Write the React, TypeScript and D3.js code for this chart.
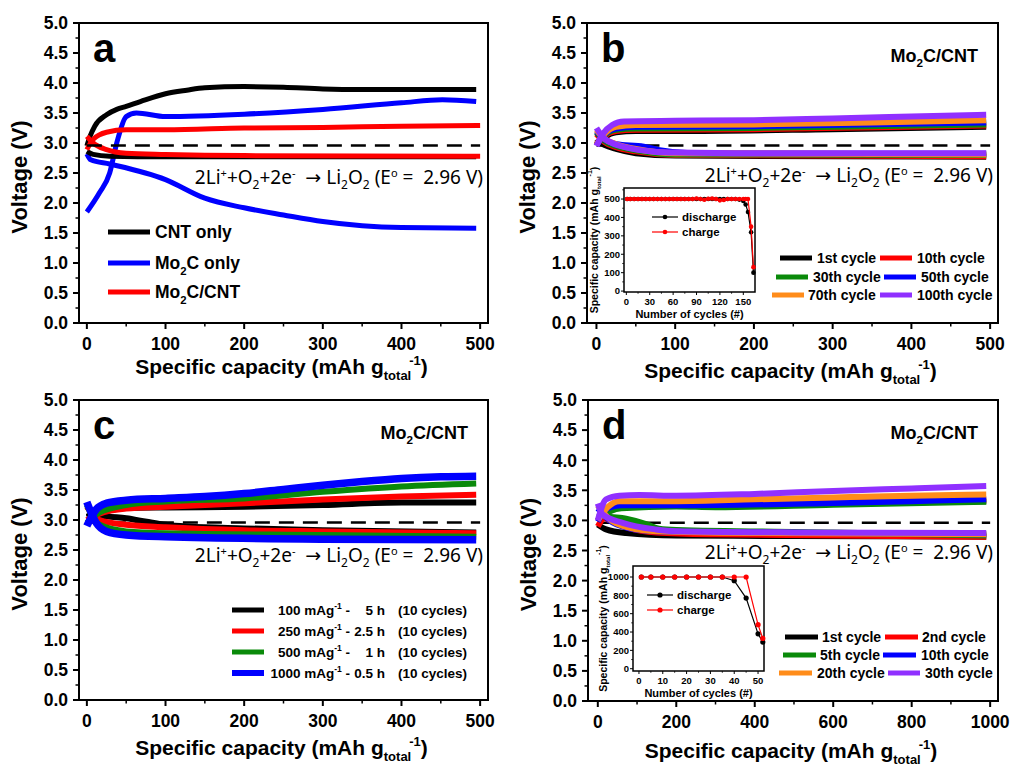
import React from "react";
import * as d3 from "d3";

type Pt = [number, number];

const FONT = "'Liberation Sans', Arial, sans-serif";
const EQFONT = "'Noto Sans', 'DejaVu Sans', sans-serif";

// colours of the cycle curves
const BLACK = "#000000";
const RED = "#ff0000";
const GREEN = "#0a8a0a";
const BLUE = "#0000ff";
const ORANGE = "#ff8c1a";
const PURPLE = "#9030ff";

// ---- panel a: CNT only / Mo2C only / Mo2C/CNT (capacity, voltage)
const aCntCharge: Pt[] = [[0, 2.95], [4, 3.11], [10, 3.28], [25, 3.47], [38, 3.56], [50, 3.61], [68, 3.69], [100, 3.82], [127, 3.88], [150, 3.92], [200, 3.94], [250, 3.93], [300, 3.9], [350, 3.89], [495, 3.89]];
const aCntDischarge: Pt[] = [[0, 2.86], [8, 2.81], [29, 2.78], [100, 2.77], [300, 2.77], [495, 2.77]];
const aMoCharge: Pt[] = [[0, 1.85], [16, 2.17], [29, 2.5], [38, 3.0], [50, 3.44], [63, 3.5], [100, 3.44], [200, 3.48], [300, 3.56], [400, 3.67], [452, 3.72], [495, 3.69]];
const aMoDischarge: Pt[] = [[0, 2.82], [5, 2.72], [29, 2.65], [100, 2.39], [150, 2.08], [200, 1.92], [250, 1.8], [300, 1.69], [350, 1.62], [400, 1.59], [495, 1.58]];
const aMixCharge: Pt[] = [[0, 2.89], [8, 3.06], [25, 3.18], [50, 3.22], [100, 3.22], [200, 3.25], [300, 3.26], [400, 3.28], [500, 3.29]];
const aMixDischarge: Pt[] = [[0, 3.11], [8, 3.0], [25, 2.89], [50, 2.83], [100, 2.81], [200, 2.79], [500, 2.78]];

// ---- panel b: 500 mAh/g cycles
const b1Charge: Pt[] = [[0, 3.0], [10, 3.1], [25, 3.18], [50, 3.2], [100, 3.2], [300, 3.23], [495, 3.27]];
const b1Discharge: Pt[] = [[0, 3.05], [10, 2.97], [25, 2.9], [50, 2.83], [100, 2.79], [495, 2.77]];
const b10Charge: Pt[] = [[0, 2.98], [10, 3.12], [25, 3.2], [50, 3.22], [200, 3.23], [495, 3.29]];
const b10Discharge: Pt[] = [[0, 3.15], [10, 3.02], [25, 2.93], [50, 2.86], [100, 2.8], [495, 2.78]];
const b30Charge: Pt[] = [[0, 2.97], [10, 3.13], [25, 3.22], [50, 3.24], [200, 3.25], [495, 3.31]];
const b30Discharge: Pt[] = [[0, 3.18], [10, 3.04], [25, 2.95], [50, 2.88], [100, 2.81], [495, 2.8]];
const b50Charge: Pt[] = [[0, 2.96], [10, 3.14], [25, 3.24], [50, 3.27], [200, 3.28], [495, 3.34]];
const b50Discharge: Pt[] = [[0, 3.2], [10, 3.06], [25, 2.98], [60, 2.94], [80, 2.88], [120, 2.83], [495, 2.82]];
const b70Charge: Pt[] = [[0, 2.97], [10, 3.15], [25, 3.27], [50, 3.3], [200, 3.31], [350, 3.34], [495, 3.38]];
const b70Discharge: Pt[] = [[0, 3.22], [10, 3.07], [25, 2.98], [50, 2.9], [100, 2.83], [495, 2.81]];
const b100Charge: Pt[] = [[0, 2.95], [8, 3.15], [20, 3.3], [35, 3.36], [100, 3.37], [200, 3.38], [300, 3.41], [400, 3.44], [495, 3.47]];
const b100Discharge: Pt[] = [[0, 3.25], [8, 3.1], [20, 3.0], [40, 2.92], [70, 2.86], [100, 2.84], [200, 2.83], [495, 2.83]];

// inset b: capacity retention
const bCycles = [1, 5, 10, 15, 20, 25, 30, 35, 40, 45, 50, 55, 60, 65, 70, 75, 80, 85, 90, 95, 100, 105, 110, 115, 120, 125, 130, 135, 140, 145, 150, 153, 156, 160, 163];
const bDischargeCap = [500, 500, 500, 500, 500, 500, 500, 500, 500, 500, 500, 500, 500, 500, 500, 500, 500, 500, 500, 500, 500, 500, 500, 500, 500, 500, 500, 500, 500, 497, 490, 470, 430, 320, 100];
const bChargeCap = [500, 500, 500, 500, 500, 500, 500, 500, 500, 500, 500, 500, 500, 500, 500, 500, 500, 500, 503, 500, 496, 502, 503, 500, 493, 495, 500, 500, 500, 500, 500, 500, 500, 350, 130];

// ---- panel c: rate capability
const c100Charge: Pt[] = [[0, 3.05], [25, 3.15], [50, 3.2], [100, 3.21], [200, 3.22], [300, 3.25], [400, 3.29], [495, 3.29]];
const c100Discharge: Pt[] = [[0, 3.12], [25, 3.06], [50, 3.03], [76, 2.97], [100, 2.92], [127, 2.89], [200, 2.86], [300, 2.83], [495, 2.79]];
const c250Charge: Pt[] = [[0, 3.0], [15, 3.1], [50, 3.19], [100, 3.22], [200, 3.28], [300, 3.34], [400, 3.39], [495, 3.42]];
const c250Discharge: Pt[] = [[0, 3.22], [16, 3.0], [50, 2.92], [100, 2.88], [200, 2.83], [300, 2.81], [495, 2.78]];
const c500Charge: Pt[] = [[0, 2.95], [15, 3.12], [50, 3.25], [100, 3.31], [200, 3.36], [300, 3.47], [400, 3.56], [495, 3.61]];
const c500Discharge: Pt[] = [[0, 3.25], [16, 2.92], [50, 2.81], [100, 2.78], [300, 2.75], [495, 2.72]];
const c1000Charge: Pt[] = [[0, 2.9], [12, 3.18], [25, 3.28], [50, 3.33], [100, 3.36], [150, 3.39], [200, 3.44], [250, 3.51], [300, 3.58], [350, 3.64], [400, 3.69], [450, 3.72], [495, 3.73]];
const c1000Discharge: Pt[] = [[0, 3.3], [12, 2.95], [25, 2.81], [50, 2.75], [100, 2.72], [300, 2.68], [495, 2.67]];

// ---- panel d: 1000 mAh/g cycles
const d1Charge: Pt[] = [[0, 3.0], [20, 3.15], [50, 3.22], [100, 3.24], [300, 3.25], [600, 3.28], [990, 3.32]];
const d1Discharge: Pt[] = [[0, 2.93], [21, 2.85], [72, 2.79], [200, 2.75], [500, 2.74], [990, 2.73]];
const d2Charge: Pt[] = [[0, 2.9], [20, 3.1], [50, 3.22], [100, 3.26], [300, 3.28], [600, 3.3], [990, 3.34]];
const d2Discharge: Pt[] = [[0, 3.1], [30, 3.0], [80, 2.87], [150, 2.8], [300, 2.77], [990, 2.73]];
const d5Charge: Pt[] = [[0, 3.05], [30, 3.15], [60, 3.2], [200, 3.23], [300, 3.22], [600, 3.26], [990, 3.31]];
const d5Discharge: Pt[] = [[0, 3.12], [21, 3.07], [72, 3.03], [123, 2.94], [156, 2.86], [200, 2.84], [600, 2.8], [990, 2.75]];
const d10Charge: Pt[] = [[0, 2.98], [25, 3.2], [60, 3.25], [200, 3.25], [600, 3.29], [800, 3.32], [990, 3.35]];
const d10Discharge: Pt[] = [[0, 3.2], [30, 3.0], [80, 2.87], [150, 2.82], [400, 2.8], [990, 2.77]];
const d20Charge: Pt[] = [[0, 3.0], [25, 3.22], [55, 3.32], [200, 3.32], [400, 3.35], [600, 3.38], [800, 3.41], [990, 3.43]];
const d20Discharge: Pt[] = [[0, 3.25], [30, 3.02], [80, 2.88], [150, 2.82], [400, 2.79], [990, 2.77]];
const d30Charge: Pt[] = [[0, 3.0], [21, 3.35], [55, 3.41], [106, 3.42], [200, 3.41], [400, 3.44], [600, 3.49], [800, 3.53], [990, 3.57]];
const d30Discharge: Pt[] = [[0, 3.28], [12, 3.1], [63, 2.96], [148, 2.85], [200, 2.82], [500, 2.8], [990, 2.79]];

// inset d
const dCycles = [1, 5, 10, 15, 20, 25, 30, 35, 40, 45, 50, 52];
const dDischargeCap = [1000, 1000, 1000, 1000, 1000, 1000, 1000, 1000, 960, 770, 380, 290];
const dChargeCap = [1000, 1000, 1000, 1000, 1000, 1000, 1000, 1000, 1000, 1000, 480, 330];

interface Curve { d: Pt[]; c: string; w: number; }

const yMajor = d3.range(0, 5.01, 0.5);
const yMinor = d3.range(0.25, 5, 0.5);
const fmt1 = d3.format(".1f");

// "Mo" + subscript 2 + rest of the label
function Mo2C({ size, rest }: { size: number; rest: string }) {
  const d = size * 0.3;
  return (
    <>
      Mo<tspan dy={d} fontSize={size * 0.65}>2</tspan>
      <tspan dy={-d}>{rest}</tspan>
    </>
  );
}

function Equation({ x, y }: { x: number; y: number }) {
  return (
    <text x={x} y={y} textAnchor="end" fontFamily={EQFONT} fontSize={19} style={{ whiteSpace: "pre" }}>
      2Li<tspan dy={-7} fontSize={11}>+</tspan>
      <tspan dy={7}>+O</tspan>
      <tspan dy={5} fontSize={12}>2</tspan>
      <tspan dy={-5}>+2e</tspan>
      <tspan dy={-7} fontSize={11}>-</tspan>
      <tspan dy={7}>{"  \u2192 Li"}</tspan>
      <tspan dy={5} fontSize={12}>2</tspan>
      <tspan dy={-5}>O</tspan>
      <tspan dy={5} fontSize={12}>2</tspan>
      <tspan dy={-5}>{" (E"}</tspan>
      <tspan dy={-7} fontSize={11}>o</tspan>
      <tspan dy={7}>{" =  2.96 V)"}</tspan>
    </text>
  );
}

function Panel(props: any) {
  const { left, top, w, h, xDomain, xMajor, xMinor, xEnd, curves, letter, tag, eqY, titleY, dashOnTop, children } = props;
  const xs = d3.scaleLinear().domain(xDomain).range([left, left + w]);
  const ys = d3.scaleLinear().domain([0, 5]).range([top + h, top]);
  const line = d3.line<Pt>().x((d) => xs(d[0])).y((d) => ys(d[1])).curve(d3.curveMonotoneX);
  const bottom = top + h;
  const dash = (
    <line x1={xs(0)} x2={xs(xEnd)} y1={ys(2.96)} y2={ys(2.96)} stroke="#000" strokeWidth={2.5} strokeDasharray="15 9" />
  );
  return (
    <g>
      {!dashOnTop && dash}
      {(curves as Curve[]).map((c, i) => (
        <path key={i} d={line(c.d) || ""} fill="none" stroke={c.c} strokeWidth={c.w} strokeLinejoin="round" />
      ))}
      {dashOnTop && dash}
      <rect x={left} y={top} width={w} height={h} fill="none" stroke="#000" strokeWidth={2} />
      {yMajor.map((v) => (
        <g key={"ym" + v}>
          <line x1={left - 6} x2={left} y1={ys(v)} y2={ys(v)} stroke="#000" strokeWidth={2} />
          <text x={left - 11} y={ys(v)} dy="0.36em" textAnchor="end" fontFamily={FONT} fontWeight="bold" fontSize={17.5}>{fmt1(v)}</text>
        </g>
      ))}
      {yMinor.map((v) => (
        <line key={"yn" + v} x1={left - 3.5} x2={left} y1={ys(v)} y2={ys(v)} stroke="#000" strokeWidth={1.5} />
      ))}
      {(xMajor as number[]).map((v) => (
        <g key={"xm" + v}>
          <line x1={xs(v)} x2={xs(v)} y1={bottom} y2={bottom + 6} stroke="#000" strokeWidth={2} />
          <text x={xs(v)} y={bottom + 27} textAnchor="middle" fontFamily={FONT} fontWeight="bold" fontSize={17.5}>{v}</text>
        </g>
      ))}
      {(xMinor as number[]).map((v) => (
        <line key={"xn" + v} x1={xs(v)} x2={xs(v)} y1={bottom} y2={bottom + 3.5} stroke="#000" strokeWidth={1.5} />
      ))}
      <text transform={`translate(${left - 52},${top + h / 2 + 4}) rotate(-90)`} textAnchor="middle" fontFamily={FONT} fontWeight="bold" fontSize={22}>Voltage (V)</text>
      <text x={left + w / 2 - 2} y={titleY} textAnchor="middle" fontFamily={FONT} fontWeight="bold" fontSize={21}>
        Specific capacity (mAh g<tspan dy={6} fontSize={13}>total</tspan>
        <tspan dy={-15} dx={-2} fontSize={13}>-1</tspan>
        <tspan dy={9}>)</tspan>
      </text>
      <text x={left + 14} y={top + 39} fontFamily={FONT} fontWeight="bold" fontSize={40}>{letter}</text>
      {tag && (
        <text x={left + w - 20} y={top + 39} textAnchor="end" fontFamily={FONT} fontWeight="bold" fontSize={18}>
          <Mo2C size={18} rest="C/CNT" />
        </text>
      )}
      <Equation x={left + w - 5} y={eqY} />
      {children}
    </g>
  );
}

function Inset(props: any) {
  const { left, top, w, h, xDomain, yDomain, xTicks, yTicks, xMinor, yMinor, cycles, dis, chg, r, legX, legY } = props;
  const xs = d3.scaleLinear().domain(xDomain).range([left, left + w]);
  const ys = d3.scaleLinear().domain(yDomain).range([top + h, top]);
  const bottom = top + h;
  const disPts: Pt[] = (cycles as number[]).map((c, i) => [c, dis[i]]);
  const chgPts: Pt[] = (cycles as number[]).map((c, i) => [c, chg[i]]);
  const line = d3.line<Pt>().x((d) => xs(d[0])).y((d) => ys(d[1]));
  return (
    <g>
      <rect x={left} y={top} width={w} height={h} fill="#fff" stroke="#000" strokeWidth={1.5} />
      <path d={line(disPts) || ""} fill="none" stroke="#000" strokeWidth={1.2} />
      {disPts.map((p, i) => <circle key={"d" + i} cx={xs(p[0])} cy={ys(p[1])} r={r} fill="#000" />)}
      <path d={line(chgPts) || ""} fill="none" stroke={RED} strokeWidth={1.2} />
      {chgPts.map((p, i) => <circle key={"c" + i} cx={xs(p[0])} cy={ys(p[1])} r={r} fill={RED} />)}
      {(yTicks as number[]).map((v) => (
        <g key={"y" + v}>
          <line x1={left - 3} x2={left} y1={ys(v)} y2={ys(v)} stroke="#000" strokeWidth={1} />
          <text x={left - 4} y={ys(v)} dy="0.36em" textAnchor="end" fontFamily={FONT} fontWeight="bold" fontSize={9.5}>{v}</text>
        </g>
      ))}
      {(yMinor as number[]).map((v) => (
        <line key={"yn" + v} x1={left - 1.8} x2={left} y1={ys(v)} y2={ys(v)} stroke="#000" strokeWidth={0.8} />
      ))}
      {(xTicks as number[]).map((v) => (
        <g key={"x" + v}>
          <line x1={xs(v)} x2={xs(v)} y1={bottom} y2={bottom + 3} stroke="#000" strokeWidth={1} />
          <text x={xs(v)} y={bottom + 13} textAnchor="middle" fontFamily={FONT} fontWeight="bold" fontSize={9.5}>{v}</text>
        </g>
      ))}
      {(xMinor as number[]).map((v) => (
        <line key={"xn" + v} x1={xs(v)} x2={xs(v)} y1={bottom} y2={bottom + 1.8} stroke="#000" strokeWidth={0.8} />
      ))}
      <text x={left + w / 2} y={bottom + 26} textAnchor="middle" fontFamily={FONT} fontWeight="bold" fontSize={11}>Number of cycles (#)</text>
      <text transform={`translate(${left - 26},${top + h / 2}) rotate(-90)`} textAnchor="middle" fontFamily={FONT} fontWeight="bold" fontSize={10.5}>
        Specific capacity (mAh g<tspan dy={3} fontSize={6}>total</tspan>
        <tspan dy={-9} fontSize={7}>-1</tspan>
        <tspan dy={6}>)</tspan>
      </text>
      {[["discharge", "#000", 0], ["charge", RED, 1]].map(([lab, col, k]: any) => (
        <g key={lab}>
          <line x1={legX} x2={legX + 26} y1={legY + k * 15} y2={legY + k * 15} stroke={col} strokeWidth={1.2} />
          <circle cx={legX + 13} cy={legY + k * 15} r={r} fill={col} />
          <text x={legX + 30} y={legY + k * 15} dy="0.36em" fontFamily={FONT} fontWeight="bold" fontSize={11.5}>{lab}</text>
        </g>
      ))}
    </g>
  );
}

function LegendItem({ x1, x2, tx, y, c, w, size, children }: any) {
  return (
    <g>
      <line x1={x1} x2={x2} y1={y} y2={y} stroke={c} strokeWidth={w} />
      <text x={tx} y={y} dy="0.36em" fontFamily={FONT} fontWeight="bold" fontSize={size}>{children}</text>
    </g>
  );
}

export default function App() {
  const curvesA: Curve[] = [
    { d: aMoDischarge, c: BLUE, w: 5 },
    { d: aMoCharge, c: BLUE, w: 5 },
    { d: aCntDischarge, c: BLACK, w: 5 },
    { d: aCntCharge, c: BLACK, w: 5 },
    { d: aMixDischarge, c: RED, w: 5 },
    { d: aMixCharge, c: RED, w: 5 },
  ];
  const curvesB: Curve[] = [
    [b1Charge, b1Discharge, BLACK], [b10Charge, b10Discharge, RED], [b30Charge, b30Discharge, GREEN],
    [b50Charge, b50Discharge, BLUE], [b70Charge, b70Discharge, ORANGE], [b100Charge, b100Discharge, PURPLE],
  ].flatMap(([ch, di, c]: any) => [{ d: di, c, w: 6 }, { d: ch, c, w: 6 }]);
  const curvesC: Curve[] = [
    [c100Charge, c100Discharge, BLACK, 6], [c250Charge, c250Discharge, RED, 6],
    [c500Charge, c500Discharge, GREEN, 6], [c1000Charge, c1000Discharge, BLUE, 7.5],
  ].flatMap(([ch, di, c, w]: any) => [{ d: di, c, w }, { d: ch, c, w }]);
  const curvesD: Curve[] = [
    [d1Charge, d1Discharge, BLACK], [d2Charge, d2Discharge, RED], [d5Charge, d5Discharge, GREEN],
    [d10Charge, d10Discharge, BLUE], [d20Charge, d20Discharge, ORANGE], [d30Charge, d30Discharge, PURPLE],
  ].flatMap(([ch, di, c]: any) => [{ d: di, c, w: 6 }, { d: ch, c, w: 6 }]);

  const x500 = d3.range(0, 501, 100);
  const x500m = d3.range(50, 500, 100);

  const legB = [
    ["1st cycle", BLACK, 780, 812, 817, 258], ["10th cycle", RED, 880, 912, 917, 258],
    ["30th cycle", GREEN, 776, 808, 813, 277], ["50th cycle", BLUE, 884, 916, 921, 277],
    ["70th cycle", ORANGE, 772, 804, 808, 295], ["100th cycle", PURPLE, 880, 912, 917, 295],
  ];
  const legD = [
    ["1st cycle", BLACK, 785, 818, 822, 637], ["2nd cycle", RED, 885, 918, 922, 637],
    ["5th cycle", GREEN, 783, 816, 820, 655], ["10th cycle", BLUE, 883, 916, 921, 655],
    ["20th cycle", ORANGE, 779, 812, 817, 673], ["30th cycle", PURPLE, 888, 920, 925, 673],
  ];
  const legC = [
    ["100", "5 h", BLACK, 610], ["250", "2.5 h", RED, 631], ["500", "1 h", GREEN, 652], ["1000", "0.5 h", BLUE, 673],
  ];

  return (
    <div style={{ position: "absolute", left: 0, top: 0 }}>
      <svg width={1011} height={766} style={{ display: "block", background: "#fff" }}>
        {/* a */}
        <Panel left={79} top={23} w={409} h={300} xDomain={[-10, 510]} xMajor={x500} xMinor={x500m} xEnd={500}
          curves={curvesA} letter="a" tag={false} eqY={184} titleY={374} dashOnTop>
          <LegendItem x1={108} x2={150} tx={155} y={232} c={BLACK} w={5} size={17.5}>CNT only</LegendItem>
          <LegendItem x1={108} x2={150} tx={155} y={263} c={BLUE} w={5} size={17.5}><Mo2C size={17.5} rest="C only" /></LegendItem>
          <LegendItem x1={108} x2={150} tx={155} y={292} c={RED} w={5} size={17.5}><Mo2C size={17.5} rest="C/CNT" /></LegendItem>
        </Panel>
        {/* b */}
        <Panel left={587} top={23} w={411} h={300} xDomain={[-12, 510]} xMajor={x500} xMinor={x500m} xEnd={500}
          curves={curvesB} letter="b" tag eqY={182} titleY={378}>
          <Inset left={624} top={188} w={131} h={104} xDomain={[-3, 165]} yDomain={[-5, 560]}
            xTicks={d3.range(0, 151, 30)} xMinor={d3.range(15, 165, 30)} yTicks={d3.range(0, 501, 100)} yMinor={d3.range(50, 551, 100)}
            cycles={bCycles} dis={bDischargeCap} chg={bChargeCap} r={2.3} legX={652} legY={217} />
          {legB.map(([t, c, a, b, tx, y]: any) => (
            <LegendItem key={t} x1={a} x2={b} tx={tx} y={y} c={c} w={5} size={14}>{t}</LegendItem>
          ))}
        </Panel>
        {/* c */}
        <Panel left={79} top={400} w={409} h={300} xDomain={[-10, 510]} xMajor={x500} xMinor={x500m} xEnd={500}
          curves={curvesC} letter="c" tag eqY={562} titleY={755}>
          {legC.map(([rate, time, c, y]: any) => (
            <g key={rate}>
              <line x1={232} x2={264} y1={y} y2={y} stroke={c} strokeWidth={c === BLUE ? 6 : 5} />
              <text y={y} dy="0.36em" fontFamily={FONT} fontWeight="bold" fontSize={13.5} style={{ whiteSpace: "pre" }}>
                <tspan x={350} textAnchor="end">{rate} mAg</tspan>
                <tspan dy={-6} fontSize={8.5}>-1</tspan>
                <tspan dy={6}>{" -"}</tspan>
                <tspan x={385} textAnchor="end">{time}</tspan>
                <tspan x={398}>(10 cycles)</tspan>
              </text>
            </g>
          ))}
        </Panel>
        {/* d */}
        <Panel left={588} top={400} w={410} h={301} xDomain={[-25, 1020]} xMajor={d3.range(0, 1001, 200)} xMinor={d3.range(100, 1000, 200)} xEnd={1000}
          curves={curvesD} letter="d" tag eqY={559} titleY={758}>
          <Inset left={633} top={566} w={131} h={105} xDomain={[-2.5, 52.5]} yDomain={[-25, 1120]}
            xTicks={d3.range(0, 51, 10)} xMinor={d3.range(5, 51, 10)} yTicks={d3.range(0, 1001, 200)} yMinor={d3.range(100, 1001, 200)}
            cycles={dCycles} dis={dDischargeCap} chg={dChargeCap} r={2.6} legX={647} legY={595} />
          {legD.map(([t, c, a, b, tx, y]: any) => (
            <LegendItem key={t} x1={a} x2={b} tx={tx} y={y} c={c} w={5} size={14}>{t}</LegendItem>
          ))}
        </Panel>
      </svg>
    </div>
  );
}
